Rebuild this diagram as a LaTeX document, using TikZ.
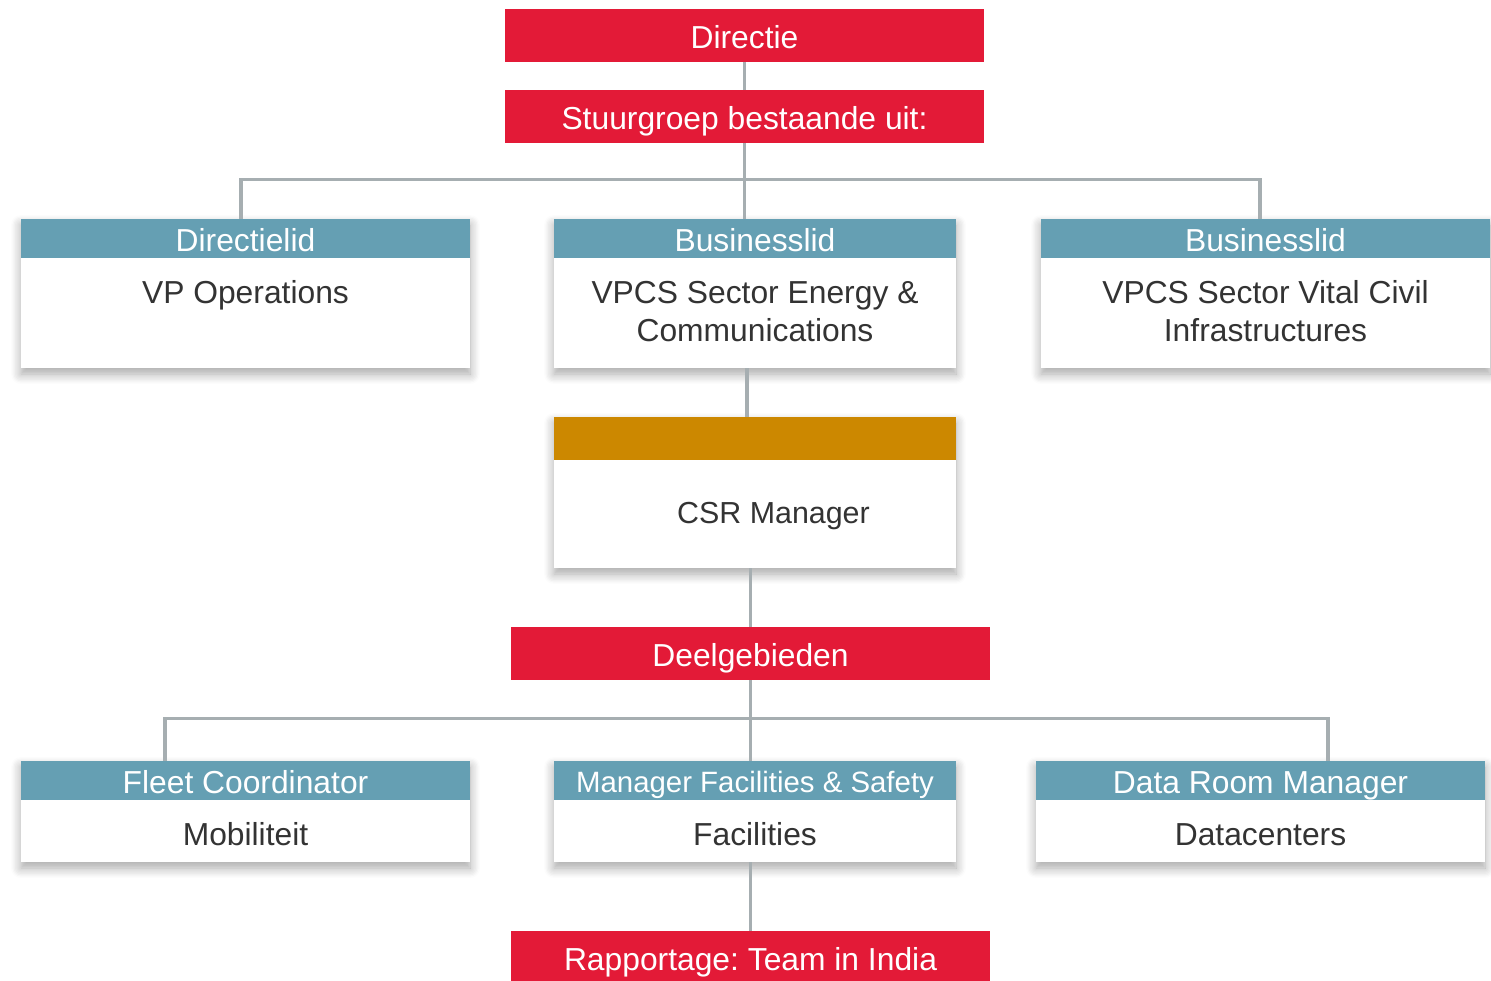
\documentclass[tikz,border=0pt]{standalone}
\usepackage{fontspec}
\setmainfont{Liberation Sans}
\usetikzlibrary{positioning,shadows.blur}

\definecolor{barred}{HTML}{E31A37}
\definecolor{headteal}{HTML}{659FB3}
\definecolor{headgold}{HTML}{CC8800}
\definecolor{linegray}{HTML}{A6AEB1}
\definecolor{txtgray}{HTML}{333333}

\begin{document}
\frenchspacing
\begin{tikzpicture}[x=0.5pt,y=-0.5pt,font=\fontsize{15.9}{19}\selectfont,
  redbar/.style={fill=barred,text=white,minimum width=239.5pt,minimum height=26.5pt,inner sep=0pt,text height=12.5pt,text depth=0pt},
  card/.style={fill=white,inner sep=0pt,blur shadow={shadow xshift=0pt,shadow yshift=-3pt,shadow blur radius=5pt,shadow blur steps=8,shadow opacity=35}},
  head/.style={fill=headteal,text=white,minimum height=19.5pt,inner sep=0pt,text height=12.5pt,text depth=0pt},
  txt/.style={text=txtgray,align=center,inner sep=0pt,anchor=base},
  link/.style={draw=linegray,line width=1.8pt}]
  \useasboundingbox (0,0) rectangle (1491,980);

  % top of the tree
  \node[redbar] (directie) at (744.5,35.5) {Directie};
  \node[redbar] (stuur) at (744.5,116.5) {Stuurgroep bestaande uit:};

  % stuurgroep
  \node[card,minimum width=224.5pt,minimum height=74.5pt] (dirlid) at (245.5,293.5) {};
  \node[head,minimum width=224.5pt] (dirlidhead) at (245.5,238.5) {Directielid};
  \node[txt] (dirlidtxt) at (245.5,303) {VP Operations};

  \node[card,minimum width=201pt,minimum height=74.5pt] (bus1) at (755,293.5) {};
  \node[head,minimum width=201pt] (bus1head) at (755,238.5) {Businesslid};
  \node[txt] (bus1txt) at (755,341) {VPCS Sector Energy \&\\Communications};

  \node[card,minimum width=224.5pt,minimum height=74.5pt] (bus2) at (1265.5,293.5) {};
  \node[head,minimum width=224.5pt] (bus2head) at (1265.5,238.5) {Businesslid};
  \node[txt] (bus2txt) at (1265.5,341) {VPCS Sector Vital Civil\\Infrastructures};

  % csr
  \node[card,minimum width=201pt,minimum height=75.5pt] (csr) at (755,492.5) {};
  \node[head,fill=headgold,minimum width=201pt,minimum height=21.5pt] (csrhead) at (755,438.5) {};
  \node[txt,font=\fontsize{15.2}{19}\selectfont] (csrtxt) at (773.5,523) {CSR Manager};

  \node[redbar] (deel) at (750.5,653.5) {Deelgebieden};

  % deelgebieden
  \node[card,minimum width=224.5pt,minimum height=50.5pt] (fleet) at (245.5,811.5) {};
  \node[head,minimum width=224.5pt] (fleethead) at (245.5,780.5) {Fleet Coordinator};
  \node[txt] (fleettxt) at (245.5,845) {Mobiliteit};

  \node[card,minimum width=201pt,minimum height=50.5pt] (fac) at (755,811.5) {};
  \node[head,minimum width=201pt,font=\fontsize{14.7}{17}\selectfont,text height=11.5pt] (fachead) at (755,780.5) {Manager Facilities \& Safety};
  \node[txt] (factxt) at (755,845) {Facilities};

  \node[card,minimum width=224.5pt,minimum height=50.5pt] (data) at (1260.5,811.5) {};
  \node[head,minimum width=224.5pt] (datahead) at (1260.5,780.5) {Data Room Manager};
  \node[txt] (datatxt) at (1260.5,845) {Datacenters};

  \node[redbar] (rapport) at (750.5,957.5) {Rapportage: Team in India};

  % connectors
  \draw[link] (directie) -- (stuur);
  \draw[link] (stuur.south) -- (stuur.south |- bus1.north);
  \draw[link] (stuur.south) ++(0,36) -| ([xshift=-2.25pt]dirlid.north);
  \draw[link] (stuur.south) ++(0,36) -| ([xshift=-2.75pt]bus2.north);
  \draw[link] ([xshift=-4pt]bus1.south) -- ([xshift=-4pt]csr.north);
  \draw[link] (deel.north |- csr.south) -- (deel.north);
  \draw[link] (deel.south) -- (deel.south |- fac.north);
  \draw[link] (deel.south) ++(0,38) -| ([xshift=-40.25pt]fleet.north);
  \draw[link] (deel.south) ++(0,38) -| ([xshift=33.75pt]data.north);
  \draw[link] (rapport.north |- fac.south) -- (rapport.north);
\end{tikzpicture}
\end{document}
